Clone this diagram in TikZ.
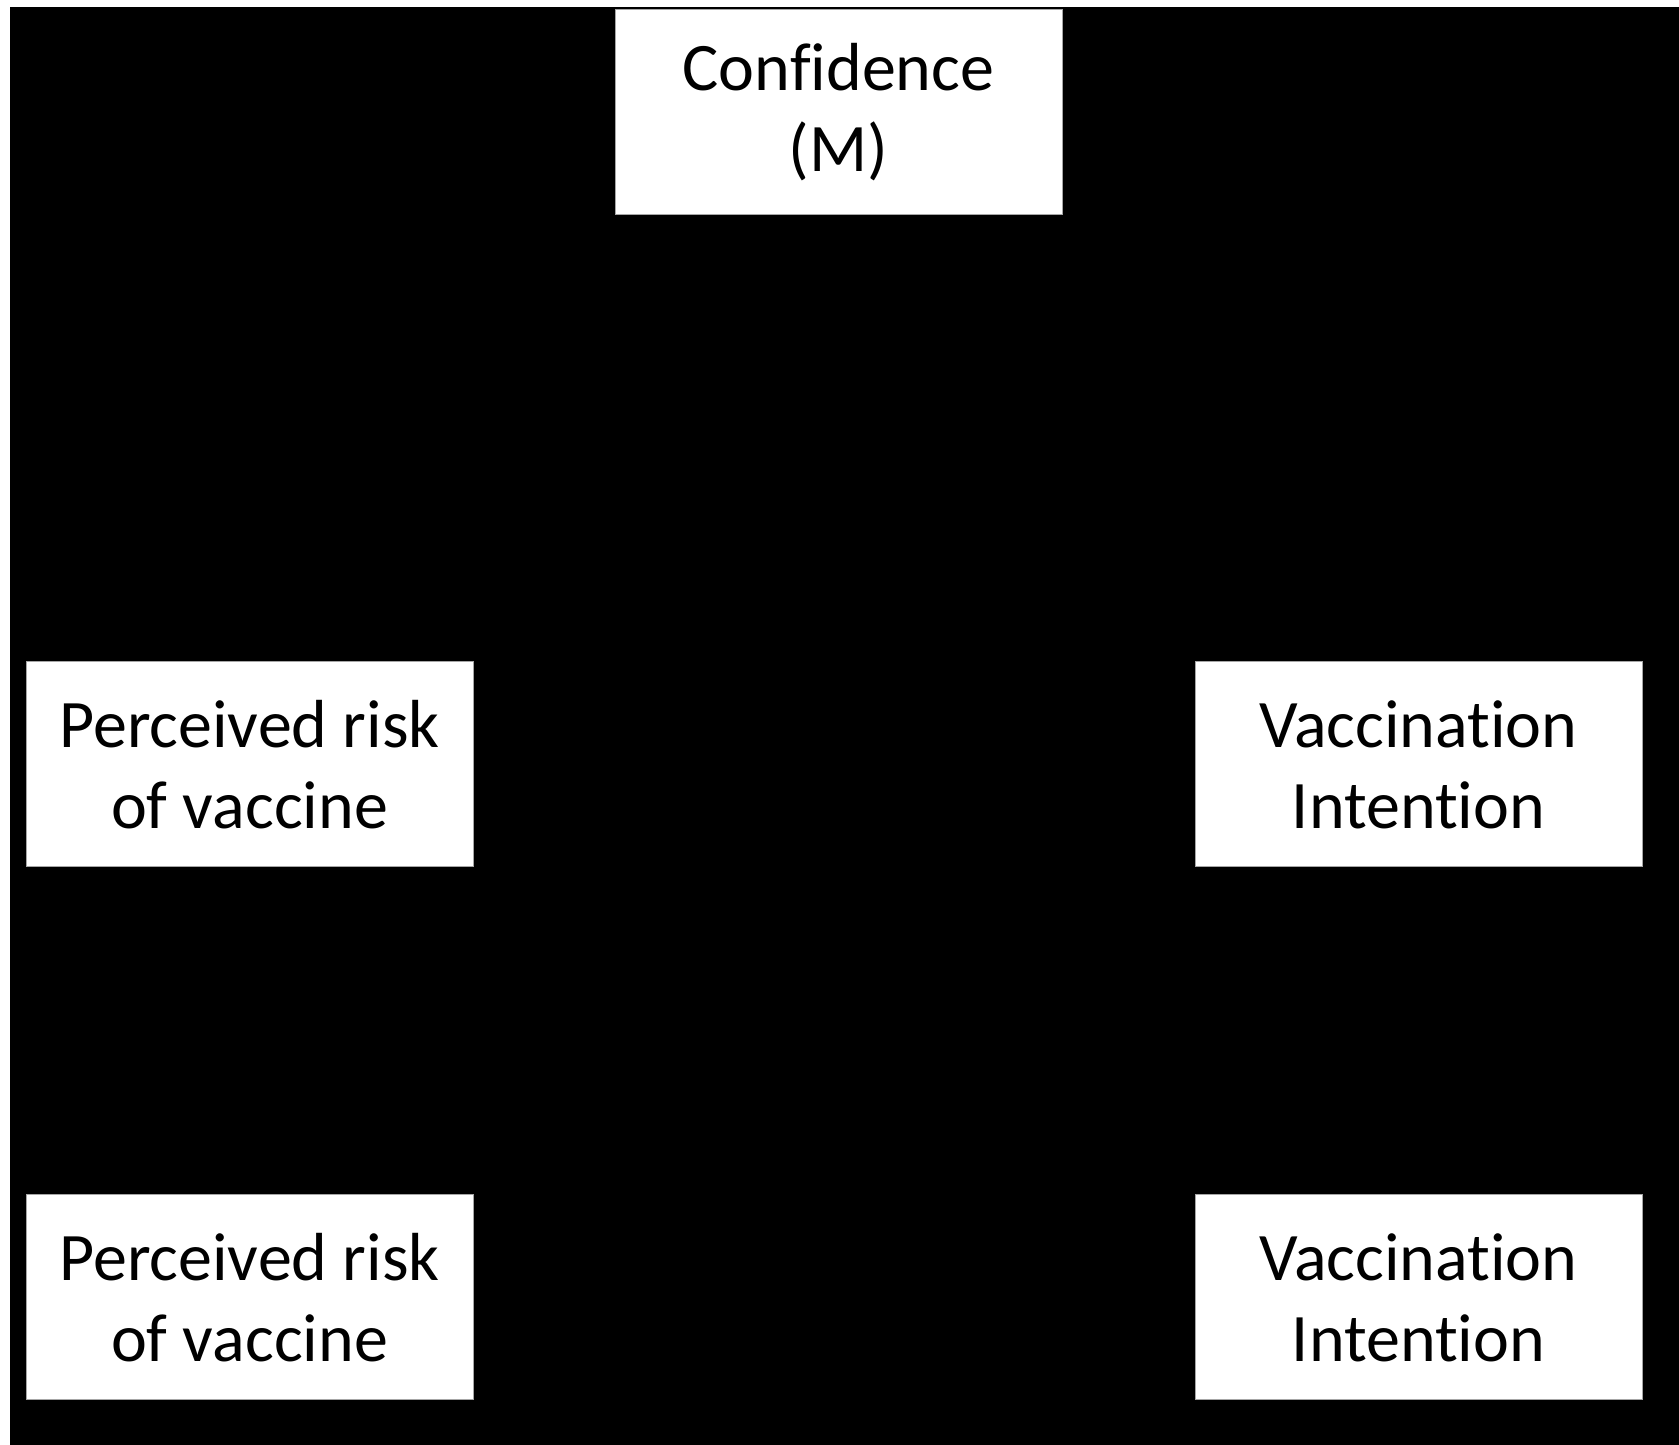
\documentclass[tikz,border=0pt]{standalone}
\usepackage{fontspec}
\setmainfont[Ligatures=NoCommon]{Carlito}
\begin{document}
\begin{tikzpicture}[x=1pt,y=1pt,
  box/.style={rectangle, fill=white, draw=gray!70, line width=1pt,
    minimum width=447pt, minimum height=205pt, inner sep=0pt,
    align=center, font=\fontsize{68}{81}\selectfont}]
\useasboundingbox (0,0) rectangle (1679,1445);
\fill[white] (0,0) rectangle (1679,1445);
\fill[black] (10,0) rectangle (1679,1438);
\node[box] (conf) at (838.5,1332.5) {Confidence\\(M)};
\node[box] (risk1) at (249.5,680.5) {Perceived risk\\of vaccine};
\node[box] (int1) at (1418.5,680.5) {Vaccination\\Intention};
\node[box] (risk2) at (249.5,147.5) {Perceived risk\\of vaccine};
\node[box] (int2) at (1418.5,147.5) {Vaccination\\Intention};
\end{tikzpicture}
\end{document}
